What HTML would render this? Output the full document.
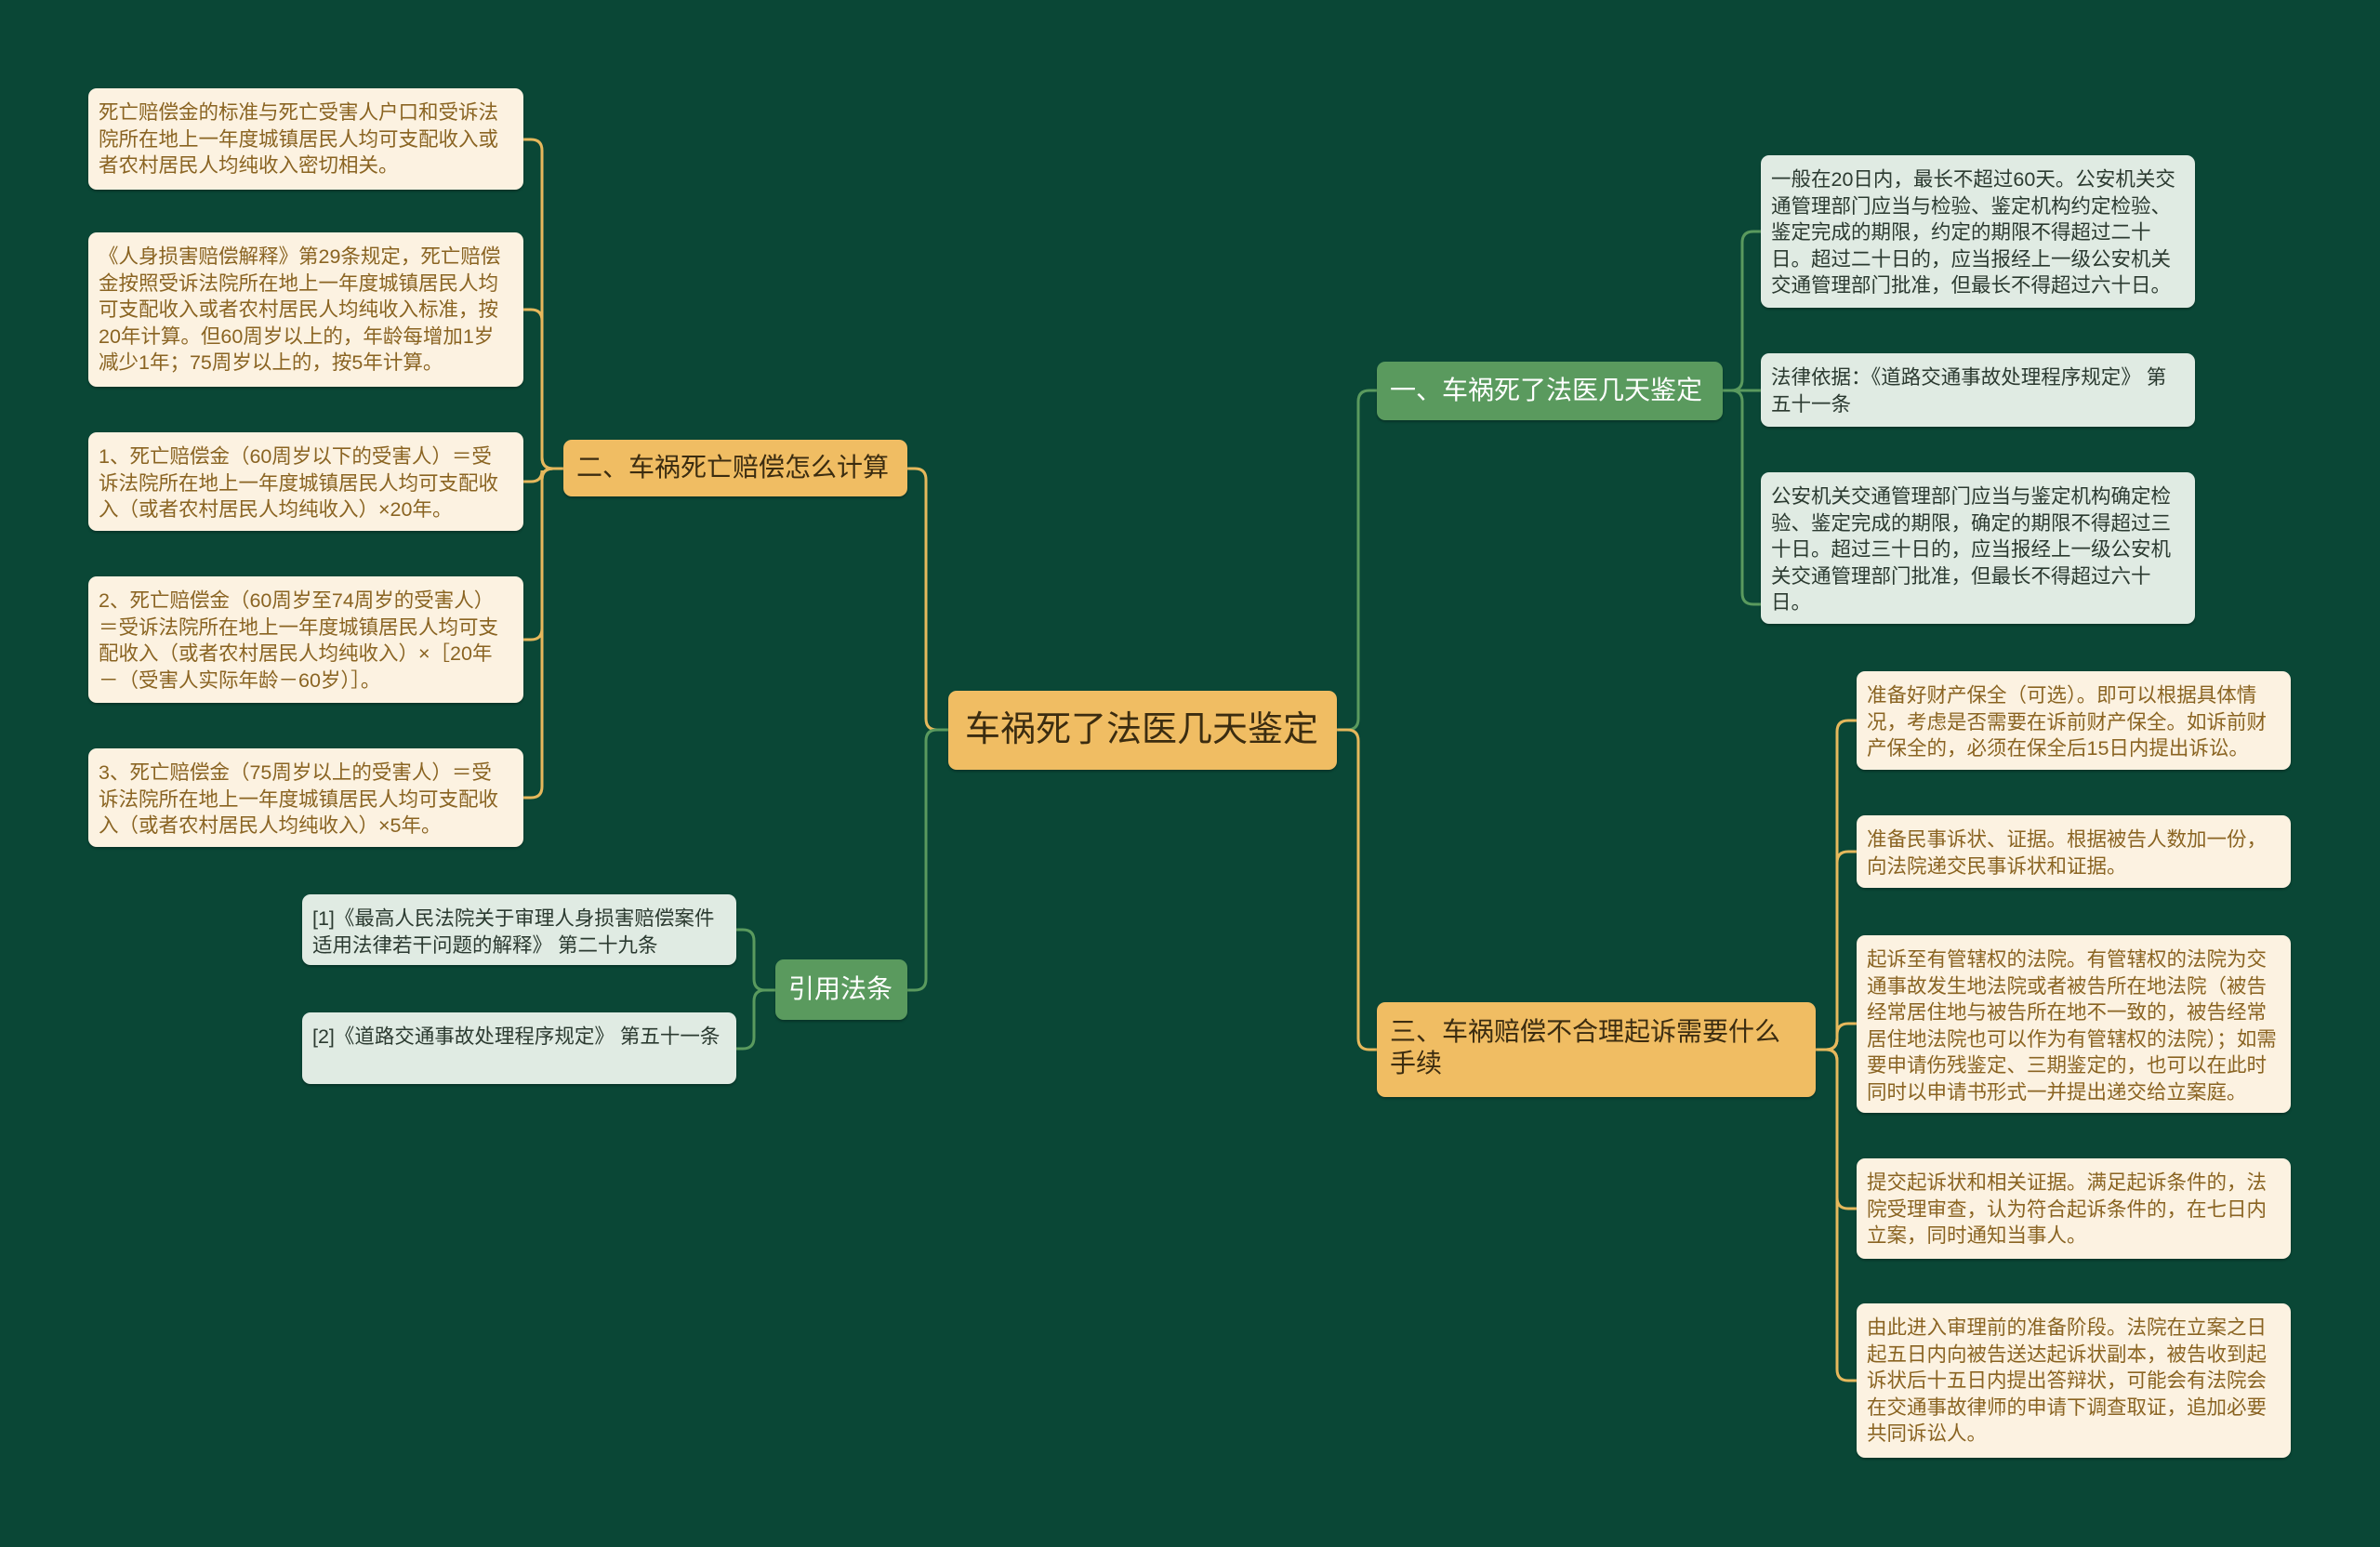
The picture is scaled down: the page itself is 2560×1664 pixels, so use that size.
<!DOCTYPE html>
<html><head><meta charset="utf-8"><style>
body{margin:0;width:2560px;height:1664px;background:#0a4736;overflow:hidden;position:relative;font-family:"Liberation Sans","Noto Sans CJK SC",sans-serif}
.n{position:absolute;box-sizing:border-box;border-radius:9px;}
.leaf{background:#fcf2e1;color:#8a6422;font-size:21.5px;line-height:28.6px;padding:12px 14px 9px 11px;box-shadow:0 2px 2px rgba(0,0,0,.25)}
.gl{background:#e0ebe3;color:#2b3a30;font-size:21.5px;line-height:28.6px;padding:12px 14px 9px 11px;box-shadow:0 2px 2px rgba(0,0,0,.25)}
.ob{background:#f0bd63;color:#3b2c10;font-size:28px;line-height:34px;padding:12px 14px;box-shadow:0 2px 2px rgba(0,0,0,.25)}
.gb{background:#5a9a5e;color:#fff;font-size:28px;line-height:34px;padding:12px 14px;box-shadow:0 2px 2px rgba(0,0,0,.25)}
svg{position:absolute;left:0;top:0}
</style></head><body>
<svg width="2560" height="1664" id="s"></svg>

<div class="n ob" style="left:1020px;top:743px;width:418px;height:85px;font-size:38px;line-height:61px;padding:12px 18px">车祸死了法医几天鉴定</div>
<div class="n ob" style="left:606px;top:473px;width:370px;height:61px;padding:13px 14px">二、车祸死亡赔偿怎么计算</div>
<div class="n gb" style="left:834px;top:1032px;width:142px;height:65px;padding:15px 14px">引用法条</div>
<div class="n gb" style="left:1481px;top:389px;width:372px;height:63px;padding:14px 14px">一、车祸死了法医几天鉴定</div>
<div class="n ob" style="left:1481px;top:1078px;width:472px;height:102px;padding:15px 14px">三、车祸赔偿不合理起诉需要什么手续</div>

<div class="n leaf" style="left:95px;top:95px;width:468px;height:109px">死亡赔偿金的标准与死亡受害人户口和受诉法院所在地上一年度城镇居民人均可支配收入或者农村居民人均纯收入密切相关。</div>
<div class="n leaf" style="left:95px;top:250px;width:468px;height:166px">《人身损害赔偿解释》第29条规定，死亡赔偿金按照受诉法院所在地上一年度城镇居民人均可支配收入或者农村居民人均纯收入标准，按20年计算。但60周岁以上的，年龄每增加1岁减少1年；75周岁以上的，按5年计算。</div>
<div class="n leaf" style="left:95px;top:465px;width:468px;height:106px">1、死亡赔偿金（60周岁以下的受害人）＝受诉法院所在地上一年度城镇居民人均可支配收入（或者农村居民人均纯收入）×20年。</div>
<div class="n leaf" style="left:95px;top:620px;width:468px;height:136px">2、死亡赔偿金（60周岁至74周岁的受害人）＝受诉法院所在地上一年度城镇居民人均可支配收入（或者农村居民人均纯收入）×［20年－（受害人实际年龄－60岁）］。</div>
<div class="n leaf" style="left:95px;top:805px;width:468px;height:106px">3、死亡赔偿金（75周岁以上的受害人）＝受诉法院所在地上一年度城镇居民人均可支配收入（或者农村居民人均纯收入）×5年。</div>

<div class="n gl" style="left:325px;top:962px;width:467px;height:76px">[1]《最高人民法院关于审理人身损害赔偿案件适用法律若干问题的解释》 第二十九条</div>
<div class="n gl" style="left:325px;top:1089px;width:467px;height:77px">[2]《道路交通事故处理程序规定》 第五十一条</div>

<div class="n gl" style="left:1894px;top:167px;width:467px;height:164px">一般在20日内，最长不超过60天。公安机关交通管理部门应当与检验、鉴定机构约定检验、鉴定完成的期限，约定的期限不得超过二十日。超过二十日的，应当报经上一级公安机关交通管理部门批准，但最长不得超过六十日。</div>
<div class="n gl" style="left:1894px;top:380px;width:467px;height:79px">法律依据：《道路交通事故处理程序规定》 第五十一条</div>
<div class="n gl" style="left:1894px;top:508px;width:467px;height:163px">公安机关交通管理部门应当与鉴定机构确定检验、鉴定完成的期限，确定的期限不得超过三十日。超过三十日的，应当报经上一级公安机关交通管理部门批准，但最长不得超过六十日。</div>

<div class="n leaf" style="left:1997px;top:722px;width:467px;height:106px">准备好财产保全（可选）。即可以根据具体情况，考虑是否需要在诉前财产保全。如诉前财产保全的，必须在保全后15日内提出诉讼。</div>
<div class="n leaf" style="left:1997px;top:877px;width:467px;height:78px">准备民事诉状、证据。根据被告人数加一份，向法院递交民事诉状和证据。</div>
<div class="n leaf" style="left:1997px;top:1006px;width:467px;height:191px">起诉至有管辖权的法院。有管辖权的法院为交通事故发生地法院或者被告所在地法院（被告经常居住地与被告所在地不一致的，被告经常居住地法院也可以作为有管辖权的法院）；如需要申请伤残鉴定、三期鉴定的，也可以在此时同时以申请书形式一并提出递交给立案庭。</div>
<div class="n leaf" style="left:1997px;top:1246px;width:467px;height:108px">提交起诉状和相关证据。满足起诉条件的，法院受理审查，认为符合起诉条件的，在七日内立案，同时通知当事人。</div>
<div class="n leaf" style="left:1997px;top:1402px;width:467px;height:166px">由此进入审理前的准备阶段。法院在立案之日起五日内向被告送达起诉状副本，被告收到起诉状后十五日内提出答辩状，可能会有法院会在交通事故律师的申请下调查取证，追加必要共同诉讼人。</div>

<script>
var s=document.getElementById('s'),O='#e6b85c',G='#5a9a5e';
function c(x1,y1,xm,x2,y2,col){var r=12,d;
 if(Math.abs(y2-y1)<1){d='M'+x1+' '+y1+'H'+x2;}else{
 var sx=xm>x1?1:-1, sy=y2>y1?1:-1, tx=x2>xm?1:-1;
 d='M'+x1+' '+y1+'H'+(xm-sx*r)+'Q'+xm+' '+y1+' '+xm+' '+(y1+sy*r)+'V'+(y2-sy*r)+'Q'+xm+' '+y2+' '+(xm+tx*r)+' '+y2+'H'+x2;}
 var p=document.createElementNS('http://www.w3.org/2000/svg','path');p.setAttribute('d',d);p.setAttribute('fill','none');p.setAttribute('stroke',col);p.setAttribute('stroke-width','3');s.appendChild(p);}
c(1020,785,996,976,504,O);c(1020,785,996,976,1065,G);
c(1438,785,1461,1481,420,G);c(1438,785,1461,1481,1129,O);
[150,333,518,688,858].forEach(function(y){c(606,504,583,563,y,O)});
[1000,1128].forEach(function(y){c(834,1065,811,792,y,G)});
[249,420,650].forEach(function(y){c(1853,420,1874,1894,y,G)});
[775,916,1101,1300,1485].forEach(function(y){c(1953,1129,1976,1997,y,O)});
</script>
</body></html>
